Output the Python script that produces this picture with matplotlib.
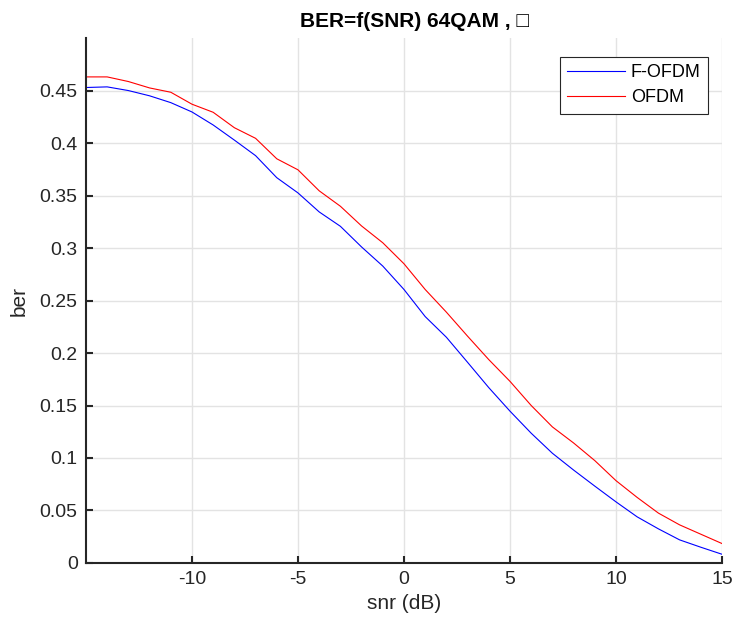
"""Recreate the BER vs SNR comparison of F-OFDM and OFDM (64QAM)."""

import matplotlib.pyplot as plt

SNR_DB = list(range(-15, 16))
BER_FOFDM = [
    0.4529, 0.4535, 0.4500, 0.4450, 0.4385, 0.4296, 0.4172, 0.4028,
    0.3880, 0.3670, 0.3525, 0.3344, 0.3207, 0.3010, 0.2828, 0.2605,
    0.2347, 0.2150, 0.1911, 0.1670, 0.1446, 0.1236, 0.1045, 0.0885,
    0.0732, 0.0582, 0.0439, 0.0325, 0.0220, 0.0150, 0.0083,
]
BER_OFDM = [
    0.4630, 0.4630, 0.4586, 0.4525, 0.4484, 0.4370, 0.4293, 0.4146,
    0.4045, 0.3850, 0.3745, 0.3545, 0.3398, 0.3210, 0.3050, 0.2850,
    0.2605, 0.2389, 0.2160, 0.1937, 0.1730, 0.1500, 0.1296, 0.1143,
    0.0975, 0.0784, 0.0624, 0.0475, 0.0363, 0.0274, 0.0185,
]
X_TICKS = [-10, -5, 0, 5, 10, 15]
Y_TICKS = [0, 0.05, 0.1, 0.15, 0.2, 0.25, 0.3, 0.35, 0.4, 0.45]
Y_TICK_LABELS = ["0", "0.05", "0.1", "0.15", "0.2", "0.25", "0.3", "0.35",
                 "0.4", "0.45"]
X_TICK_LABELS = ["-10", "-5", "0", "5", "10", "15"]

INK = "#262626"


def main() -> None:
    plt.rcParams.update(
        {
            "font.family": ["Liberation Sans", "DejaVu Sans"],
            "font.size": 13,
        }
    )
    figure = plt.figure(figsize=(7.36, 6.24), dpi=100)
    axis = figure.add_axes((0.1168, 0.0978, 0.8642, 0.8412))

    axis.plot(SNR_DB, BER_FOFDM, color="#0000ff", linewidth=0.8,
              label="F-OFDM")
    axis.plot(SNR_DB, BER_OFDM, color="#ff0000", linewidth=0.8,
              label="OFDM")

    axis.set_xlim(-15, 15)
    axis.set_ylim(0, 0.5)
    axis.set_xticks(X_TICKS, X_TICK_LABELS)
    axis.set_yticks(Y_TICKS, Y_TICK_LABELS)
    axis.tick_params(direction="in", length=5, width=1.5, colors=INK,
                     labelsize=14, pad=6)
    axis.grid(color="#e3e3e3", linewidth=1.0)
    axis.set_axisbelow(True)
    axis.spines[["top", "right"]].set_visible(False)
    for side in ("left", "bottom"):
        axis.spines[side].set_linewidth(1.5)
        axis.spines[side].set_color(INK)

    axis.set_xlabel("snr (dB)", fontsize=15, color=INK, labelpad=4)
    axis.set_ylabel("ber", fontsize=15, color=INK, labelpad=8)
    axis.set_title("BER=f(SNR) 64QAM , □", fontsize=15, fontweight="bold",
                   x=0.516, pad=8)

    legend = axis.legend(loc="upper right", bbox_to_anchor=(0.978, 0.964),
                         borderaxespad=0, fontsize=13, fancybox=False,
                         framealpha=1, edgecolor="#262626",
                         handlelength=3.2, borderpad=0.4, labelspacing=0.45,
                         handletextpad=0.35)
    legend.get_frame().set_linewidth(0.8)

    figure.savefig("out.png", dpi=100)
    plt.close(figure)


if __name__ == "__main__":
    main()
